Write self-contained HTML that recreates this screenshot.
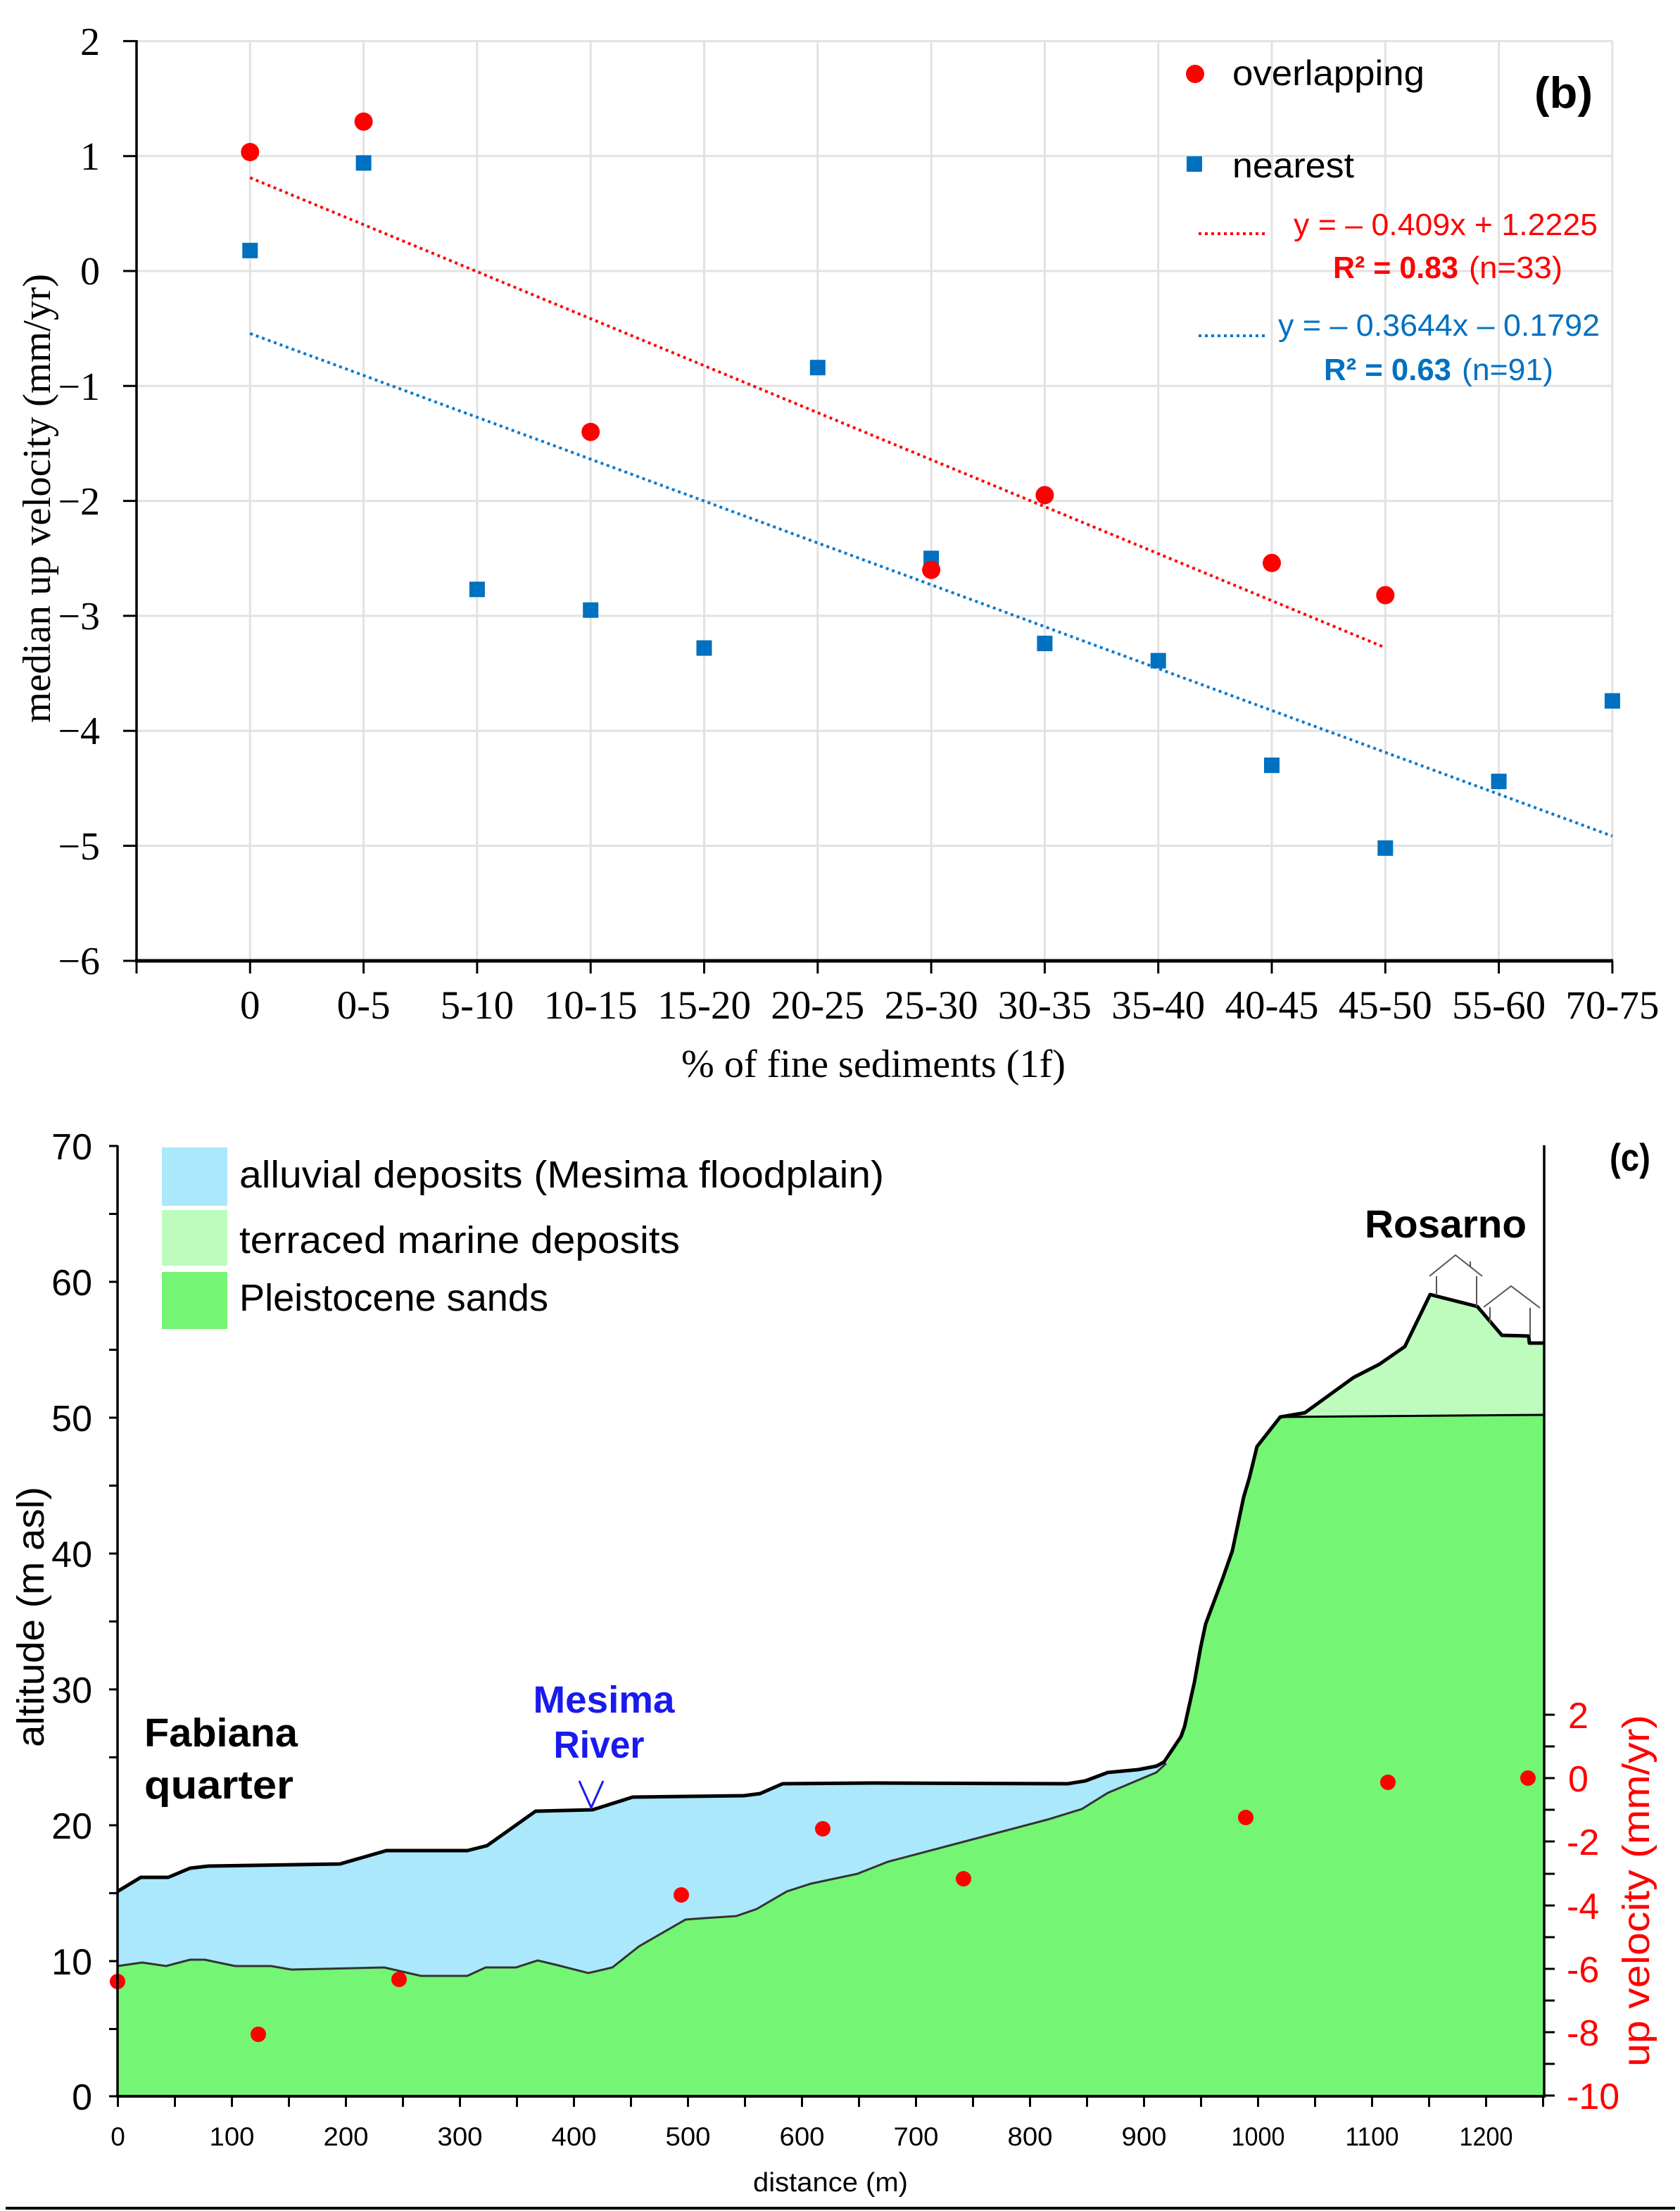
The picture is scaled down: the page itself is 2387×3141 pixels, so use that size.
<!DOCTYPE html>
<html>
<head>
<meta charset="utf-8">
<style>
html,body{margin:0;padding:0;background:#fff;}
svg{display:block;}
.serif{font-family:"Liberation Serif",serif;}
.sans{font-family:"Liberation Sans",sans-serif;}
</style>
</head>
<body>
<svg width="2387" height="3141" viewBox="0 0 2387 3141" xmlns="http://www.w3.org/2000/svg">
<rect x="0" y="0" width="2387" height="3141" fill="#fff"/>

<!-- ================= TOP CHART (b) ================= -->
<g stroke="#e2e2e2" stroke-width="3">
  <!-- horizontal gridlines -->
  <line x1="194" y1="58.4" x2="2291" y2="58.4"/>
  <line x1="194" y1="221.7" x2="2291" y2="221.7"/>
  <line x1="194" y1="385" x2="2291" y2="385"/>
  <line x1="194" y1="548.3" x2="2291" y2="548.3"/>
  <line x1="194" y1="711.6" x2="2291" y2="711.6"/>
  <line x1="194" y1="874.9" x2="2291" y2="874.9"/>
  <line x1="194" y1="1038.2" x2="2291" y2="1038.2"/>
  <line x1="194" y1="1201.5" x2="2291" y2="1201.5"/>
  <!-- vertical gridlines -->
  <line x1="355.3" y1="58" x2="355.3" y2="1364"/>
  <line x1="516.6" y1="58" x2="516.6" y2="1364"/>
  <line x1="677.9" y1="58" x2="677.9" y2="1364"/>
  <line x1="839.2" y1="58" x2="839.2" y2="1364"/>
  <line x1="1000.5" y1="58" x2="1000.5" y2="1364"/>
  <line x1="1161.8" y1="58" x2="1161.8" y2="1364"/>
  <line x1="1323.1" y1="58" x2="1323.1" y2="1364"/>
  <line x1="1484.4" y1="58" x2="1484.4" y2="1364"/>
  <line x1="1645.7" y1="58" x2="1645.7" y2="1364"/>
  <line x1="1807" y1="58" x2="1807" y2="1364"/>
  <line x1="1968.3" y1="58" x2="1968.3" y2="1364"/>
  <line x1="2129.6" y1="58" x2="2129.6" y2="1364"/>
  <line x1="2290.9" y1="58" x2="2290.9" y2="1364"/>
</g>

<!-- axes -->
<g stroke="#000" stroke-width="3.5">
  <line x1="194" y1="57" x2="194" y2="1366"/>
  <line x1="192" y1="1365" x2="2292" y2="1365" stroke-width="5"/>
</g>
<g stroke="#000" stroke-width="3">
  <!-- y ticks -->
  <line x1="175" y1="58.4" x2="194" y2="58.4"/>
  <line x1="175" y1="221.7" x2="194" y2="221.7"/>
  <line x1="175" y1="385" x2="194" y2="385"/>
  <line x1="175" y1="548.3" x2="194" y2="548.3"/>
  <line x1="175" y1="711.6" x2="194" y2="711.6"/>
  <line x1="175" y1="874.9" x2="194" y2="874.9"/>
  <line x1="175" y1="1038.2" x2="194" y2="1038.2"/>
  <line x1="175" y1="1201.5" x2="194" y2="1201.5"/>
  <line x1="175" y1="1365" x2="194" y2="1365"/>
  <!-- x ticks -->
  <line x1="194" y1="1365" x2="194" y2="1383"/>
  <line x1="355.3" y1="1365" x2="355.3" y2="1383"/>
  <line x1="516.6" y1="1365" x2="516.6" y2="1383"/>
  <line x1="677.9" y1="1365" x2="677.9" y2="1383"/>
  <line x1="839.2" y1="1365" x2="839.2" y2="1383"/>
  <line x1="1000.5" y1="1365" x2="1000.5" y2="1383"/>
  <line x1="1161.8" y1="1365" x2="1161.8" y2="1383"/>
  <line x1="1323.1" y1="1365" x2="1323.1" y2="1383"/>
  <line x1="1484.4" y1="1365" x2="1484.4" y2="1383"/>
  <line x1="1645.7" y1="1365" x2="1645.7" y2="1383"/>
  <line x1="1807" y1="1365" x2="1807" y2="1383"/>
  <line x1="1968.3" y1="1365" x2="1968.3" y2="1383"/>
  <line x1="2129.6" y1="1365" x2="2129.6" y2="1383"/>
  <line x1="2290.9" y1="1365" x2="2290.9" y2="1383"/>
</g>

<!-- y tick labels -->
<g class="serif" font-size="56" fill="#000" text-anchor="end">
  <text x="142" y="78">2</text>
  <text x="142" y="241">1</text>
  <text x="142" y="404">0</text>
  <text x="142" y="568">−1</text>
  <text x="142" y="731">−2</text>
  <text x="142" y="894">−3</text>
  <text x="142" y="1057">−4</text>
  <text x="142" y="1221">−5</text>
  <text x="142" y="1384">−6</text>
</g>

<!-- x tick labels -->
<g class="serif" font-size="57" fill="#000" text-anchor="middle">
  <text x="355.3" y="1447">0</text>
  <text x="516.6" y="1447">0-5</text>
  <text x="677.9" y="1447">5-10</text>
  <text x="839.2" y="1447">10-15</text>
  <text x="1000.5" y="1447">15-20</text>
  <text x="1161.8" y="1447">20-25</text>
  <text x="1323.1" y="1447">25-30</text>
  <text x="1484.4" y="1447">30-35</text>
  <text x="1645.7" y="1447">35-40</text>
  <text x="1807" y="1447">40-45</text>
  <text x="1968.3" y="1447">45-50</text>
  <text x="2129.6" y="1447">55-60</text>
  <text x="2290.9" y="1447">70-75</text>
</g>

<!-- axis titles -->
<text class="serif" font-size="56" x="1241" y="1530" text-anchor="middle" textLength="546" lengthAdjust="spacingAndGlyphs">% of fine sediments (1f)</text>
<text class="serif" font-size="56" transform="translate(71,708) rotate(-90)" text-anchor="middle" textLength="638" lengthAdjust="spacingAndGlyphs">median up velocity (mm/yr)</text>

<!-- trend lines -->
<line x1="355.3" y1="252.4" x2="1968.3" y2="920.1" stroke="#ff0000" stroke-width="4" stroke-dasharray="4 5"/>
<line x1="355.3" y1="473.8" x2="2290.9" y2="1187.8" stroke="#0a78cc" stroke-width="4" stroke-dasharray="4 5"/>

<!-- nearest (blue squares) -->
<g fill="#0070c0">
  <rect x="344.3" y="344.9" width="22" height="22"/>
  <rect x="505.6" y="220.5" width="22" height="22"/>
  <rect x="666.9" y="826.3" width="22" height="22"/>
  <rect x="828.2" y="855.7" width="22" height="22"/>
  <rect x="989.5" y="909.6" width="22" height="22"/>
  <rect x="1150.8" y="511.2" width="22" height="22"/>
  <rect x="1312.1" y="782.3" width="22" height="22"/>
  <rect x="1473.4" y="903.1" width="22" height="22"/>
  <rect x="1634.7" y="927.6" width="22" height="22"/>
  <rect x="1796" y="1076.2" width="22" height="22"/>
  <rect x="1957.3" y="1193.8" width="22" height="22"/>
  <rect x="2118.6" y="1099.1" width="22" height="22"/>
  <rect x="2279.9" y="984.7" width="22" height="22"/>
</g>

<!-- overlapping (red circles) -->
<g fill="#ff0000">
  <circle cx="355.3" cy="216" r="13"/>
  <circle cx="516.6" cy="172.7" r="13"/>
  <circle cx="839.2" cy="613.6" r="13"/>
  <circle cx="1323.1" cy="809.6" r="13"/>
  <circle cx="1484.4" cy="703.4" r="13"/>
  <circle cx="1807" cy="799.8" r="13"/>
  <circle cx="1968.3" cy="845.5" r="13"/>
</g>

<!-- legend (b) -->
<circle cx="1698" cy="105" r="13" fill="#ff0000"/>
<text class="sans" font-size="50" x="1751" y="121" textLength="273" lengthAdjust="spacingAndGlyphs">overlapping</text>
<rect x="1686" y="222" width="22" height="22" fill="#0070c0"/>
<text class="sans" font-size="50" x="1751" y="252" textLength="173" lengthAdjust="spacingAndGlyphs">nearest</text>
<text class="sans" font-size="62" font-weight="bold" x="2180" y="153" textLength="83" lengthAdjust="spacingAndGlyphs">(b)</text>

<line x1="1703" y1="332" x2="1798" y2="332" stroke="#ff0000" stroke-width="4" stroke-dasharray="4 5"/>
<text class="sans" font-size="44" fill="#ff0000" x="1838" y="334" textLength="432" lengthAdjust="spacingAndGlyphs">y = – 0.409x + 1.2225</text>
<text class="sans" font-size="44" fill="#ff0000" font-weight="bold" x="1894" y="395" textLength="178" lengthAdjust="spacingAndGlyphs">R² = 0.83</text>
<text class="sans" font-size="44" fill="#ff0000" x="2087" y="395" textLength="133" lengthAdjust="spacingAndGlyphs">(n=33)</text>

<line x1="1703" y1="477" x2="1798" y2="477" stroke="#0a78cc" stroke-width="4" stroke-dasharray="4 5"/>
<text class="sans" font-size="44" fill="#0070c0" x="1816" y="477" textLength="457" lengthAdjust="spacingAndGlyphs">y = – 0.3644x – 0.1792</text>
<text class="sans" font-size="44" fill="#0070c0" font-weight="bold" x="1881" y="540" textLength="181" lengthAdjust="spacingAndGlyphs">R² = 0.63</text>
<text class="sans" font-size="44" fill="#0070c0" x="2077" y="540" textLength="130" lengthAdjust="spacingAndGlyphs">(n=91)</text>

<!-- ================= BOTTOM CHART (c) ================= -->
<!-- alluvial -->
<path fill="#abe8fc" d="M167,2687 L200,2667 L239,2667 L270,2654 L296,2651 L483,2648 L549,2629 L664,2629 L692,2622 L761,2573 L842,2571 L899,2553 L1057,2551 L1080,2548 L1112,2534 L1241,2533 L1517,2534 L1542,2530 L1574,2518 L1617,2514 L1643,2509 L1654,2503 L1660,2503 L1660,2978 L167,2978 Z"/>
<!-- terraced marine -->
<path fill="#bdfcbd" d="M1819,2013 L1854,2007 L1923,1957 L1960,1938 L1996,1913 L2032,1839 L2099,1856 L2134,1897 L2172,1898 L2173,1908 L2194,1908 L2194,2012 Z"/>
<!-- Pleistocene -->
<path fill="#74f574" d="M167,2978 L167,2793 L202,2788 L236,2793 L270,2784 L291,2784 L334,2793 L385,2793 L414,2798 L546,2795 L598,2807 L664,2807 L690,2795 L733,2795 L764,2785 L793,2792 L836,2803 L870,2795 L908,2765 L974,2727 L1000,2725 L1046,2722 L1075,2712 L1118,2687 L1152,2676 L1218,2662 L1261,2645 L1367,2617 L1488,2585 L1537,2570 L1574,2547 L1643,2518 L1657,2505 L1678,2467 L1683,2453 L1697,2390 L1706,2340 L1713,2307 L1737,2243 L1751,2203 L1767,2127 L1775,2100 L1786,2055 L1819,2013 L2194,2010 L2194,2978 Z"/>

<!-- outlines -->
<polyline fill="none" stroke="#333" stroke-width="3" points="167,2793 202,2788 236,2793 270,2784 291,2784 334,2793 385,2793 414,2798 546,2795 598,2807 664,2807 690,2795 733,2795 764,2785 793,2792 836,2803 870,2795 908,2765 974,2727 1000,2725 1046,2722 1075,2712 1118,2687 1152,2676 1218,2662 1261,2645 1367,2617 1488,2585 1537,2570 1574,2547 1643,2518 1657,2505"/>
<line x1="1819" y1="2013" x2="2194" y2="2010" stroke="#000" stroke-width="3"/>
<polyline fill="none" stroke="#000" stroke-width="5" stroke-linejoin="round" points="167,2687 200,2667 239,2667 270,2654 296,2651 483,2648 549,2629 664,2629 692,2622 761,2573 842,2571 899,2553 1057,2551 1080,2548 1112,2534 1241,2533 1517,2534 1542,2530 1574,2518 1617,2514 1643,2509 1654,2503 1678,2467 1683,2453 1697,2390 1706,2340 1713,2307 1737,2243 1751,2203 1767,2127 1775,2100 1786,2055 1819,2013 1854,2007 1923,1957 1960,1938 1996,1913 2032,1839 2099,1856 2134,1897 2172,1898 2173,1908 2194,1908"/>

<!-- houses -->
<g fill="none" stroke="#555" stroke-width="2">
  <polyline points="2031,1813 2068,1783 2106,1813"/>
  <line x1="2041" y1="1813" x2="2041" y2="1840"/>
  <line x1="2098" y1="1813" x2="2098" y2="1856"/>
  <line x1="2089" y1="1792" x2="2089" y2="1800"/>
  <polyline points="2108,1857 2147,1827 2188,1858"/>
  <line x1="2117" y1="1857" x2="2117" y2="1880"/>
  <line x1="2174" y1="1858" x2="2174" y2="1898"/>
</g>

<!-- red velocity dots -->
<g fill="#ff0000">
  <circle cx="167" cy="2815" r="11"/>
  <circle cx="367" cy="2890" r="11"/>
  <circle cx="567" cy="2812" r="11"/>
  <circle cx="968" cy="2692" r="11"/>
  <circle cx="1169" cy="2598" r="11"/>
  <circle cx="1369" cy="2669" r="11"/>
  <circle cx="1770" cy="2582" r="11"/>
  <circle cx="1972" cy="2532" r="11"/>
  <circle cx="2171" cy="2526" r="11"/>
</g>

<!-- axes bottom chart -->
<g stroke="#000" stroke-width="3.5">
  <line x1="167" y1="1627" x2="167" y2="2980"/>
  <line x1="2194" y1="1627" x2="2194" y2="2980"/>
  <line x1="165" y1="2978" x2="2196" y2="2978" stroke-width="4"/>
</g>
<!-- left ticks every 5 m -->
<g stroke="#000" stroke-width="3">
  <line x1="155" y1="1628" x2="167" y2="1628"/>
  <line x1="155" y1="1724.5" x2="167" y2="1724.5"/>
  <line x1="155" y1="1821" x2="167" y2="1821"/>
  <line x1="155" y1="1917.5" x2="167" y2="1917.5"/>
  <line x1="155" y1="2014" x2="167" y2="2014"/>
  <line x1="155" y1="2110.5" x2="167" y2="2110.5"/>
  <line x1="155" y1="2207" x2="167" y2="2207"/>
  <line x1="155" y1="2303.5" x2="167" y2="2303.5"/>
  <line x1="155" y1="2400" x2="167" y2="2400"/>
  <line x1="155" y1="2496.5" x2="167" y2="2496.5"/>
  <line x1="155" y1="2593" x2="167" y2="2593"/>
  <line x1="155" y1="2689.5" x2="167" y2="2689.5"/>
  <line x1="155" y1="2786" x2="167" y2="2786"/>
  <line x1="155" y1="2882.5" x2="167" y2="2882.5"/>
  <line x1="155" y1="2978" x2="167" y2="2978"/>
</g>
<!-- right ticks -->
<g stroke="#000" stroke-width="3">
  <line x1="2194" y1="2436" x2="2209" y2="2436"/>
  <line x1="2194" y1="2481" x2="2209" y2="2481"/>
  <line x1="2194" y1="2526" x2="2209" y2="2526"/>
  <line x1="2194" y1="2571" x2="2209" y2="2571"/>
  <line x1="2194" y1="2616" x2="2209" y2="2616"/>
  <line x1="2194" y1="2662" x2="2209" y2="2662"/>
  <line x1="2194" y1="2707" x2="2209" y2="2707"/>
  <line x1="2194" y1="2752" x2="2209" y2="2752"/>
  <line x1="2194" y1="2797" x2="2209" y2="2797"/>
  <line x1="2194" y1="2842" x2="2209" y2="2842"/>
  <line x1="2194" y1="2887" x2="2209" y2="2887"/>
  <line x1="2194" y1="2932" x2="2209" y2="2932"/>
  <line x1="2194" y1="2977" x2="2209" y2="2977"/>
</g>
<!-- bottom ticks every 50 m -->
<g stroke="#000" stroke-width="3">
  <line x1="167.5" y1="2978" x2="167.5" y2="2993"/>
  <line x1="248.5" y1="2978" x2="248.5" y2="2993"/>
  <line x1="329.5" y1="2978" x2="329.5" y2="2993"/>
  <line x1="410.5" y1="2978" x2="410.5" y2="2993"/>
  <line x1="491.5" y1="2978" x2="491.5" y2="2993"/>
  <line x1="572.5" y1="2978" x2="572.5" y2="2993"/>
  <line x1="653.5" y1="2978" x2="653.5" y2="2993"/>
  <line x1="734.5" y1="2978" x2="734.5" y2="2993"/>
  <line x1="815.5" y1="2978" x2="815.5" y2="2993"/>
  <line x1="896.5" y1="2978" x2="896.5" y2="2993"/>
  <line x1="977.5" y1="2978" x2="977.5" y2="2993"/>
  <line x1="1058.5" y1="2978" x2="1058.5" y2="2993"/>
  <line x1="1139.5" y1="2978" x2="1139.5" y2="2993"/>
  <line x1="1220.5" y1="2978" x2="1220.5" y2="2993"/>
  <line x1="1301.5" y1="2978" x2="1301.5" y2="2993"/>
  <line x1="1382.5" y1="2978" x2="1382.5" y2="2993"/>
  <line x1="1463.5" y1="2978" x2="1463.5" y2="2993"/>
  <line x1="1544.5" y1="2978" x2="1544.5" y2="2993"/>
  <line x1="1625.5" y1="2978" x2="1625.5" y2="2993"/>
  <line x1="1706.5" y1="2978" x2="1706.5" y2="2993"/>
  <line x1="1787.5" y1="2978" x2="1787.5" y2="2993"/>
  <line x1="1868.5" y1="2978" x2="1868.5" y2="2993"/>
  <line x1="1949.5" y1="2978" x2="1949.5" y2="2993"/>
  <line x1="2030.5" y1="2978" x2="2030.5" y2="2993"/>
  <line x1="2111.5" y1="2978" x2="2111.5" y2="2993"/>
  <line x1="2192.5" y1="2978" x2="2192.5" y2="2993"/>
</g>

<!-- left axis labels -->
<g class="sans" font-size="52" fill="#000" text-anchor="end">
  <text x="131" y="1647">70</text>
  <text x="131" y="1840">60</text>
  <text x="131" y="2033">50</text>
  <text x="131" y="2226">40</text>
  <text x="131" y="2419">30</text>
  <text x="131" y="2612">20</text>
  <text x="131" y="2805">10</text>
  <text x="131" y="2997">0</text>
</g>
<!-- right axis labels -->
<g class="sans" font-size="52" fill="#ff0000" text-anchor="start">
  <text x="2228" y="2455">2</text>
  <text x="2228" y="2545">0</text>
  <text x="2226" y="2635">-2</text>
  <text x="2226" y="2726">-4</text>
  <text x="2226" y="2816">-6</text>
  <text x="2226" y="2906">-8</text>
  <text x="2226" y="2996">-10</text>
</g>
<!-- bottom axis labels -->
<g class="sans" font-size="37" fill="#000" text-anchor="middle">
  <text x="167.5" y="3048">0</text>
  <text x="329.5" y="3048" textLength="64" lengthAdjust="spacingAndGlyphs">100</text>
  <text x="491.5" y="3048" textLength="64" lengthAdjust="spacingAndGlyphs">200</text>
  <text x="653.5" y="3048" textLength="64" lengthAdjust="spacingAndGlyphs">300</text>
  <text x="815.5" y="3048" textLength="64" lengthAdjust="spacingAndGlyphs">400</text>
  <text x="977.5" y="3048" textLength="64" lengthAdjust="spacingAndGlyphs">500</text>
  <text x="1139.5" y="3048" textLength="64" lengthAdjust="spacingAndGlyphs">600</text>
  <text x="1301.5" y="3048" textLength="64" lengthAdjust="spacingAndGlyphs">700</text>
  <text x="1463.5" y="3048" textLength="64" lengthAdjust="spacingAndGlyphs">800</text>
  <text x="1625.5" y="3048" textLength="64" lengthAdjust="spacingAndGlyphs">900</text>
  <text x="1787.5" y="3048" textLength="76" lengthAdjust="spacingAndGlyphs">1000</text>
  <text x="1949.5" y="3048" textLength="76" lengthAdjust="spacingAndGlyphs">1100</text>
  <text x="2111.5" y="3048" textLength="76" lengthAdjust="spacingAndGlyphs">1200</text>
</g>

<!-- axis titles bottom -->
<text class="sans" font-size="38" x="1180" y="3113" text-anchor="middle" textLength="220" lengthAdjust="spacingAndGlyphs">distance (m)</text>
<text class="sans" font-size="54" transform="translate(62,2297) rotate(-90)" text-anchor="middle" textLength="370" lengthAdjust="spacingAndGlyphs">altitude (m asl)</text>
<text class="sans" font-size="54" fill="#ff0000" transform="translate(2343,2686) rotate(-90)" text-anchor="middle" textLength="500" lengthAdjust="spacingAndGlyphs">up velocity (mm/yr)</text>

<!-- legend (c) -->
<rect x="230" y="1630" width="93" height="83" fill="#abe8fc"/>
<rect x="230" y="1719" width="93" height="79" fill="#bdfcbd"/>
<rect x="230" y="1807" width="93" height="81" fill="#74f574"/>
<text class="sans" font-size="54" x="340" y="1687" textLength="916" lengthAdjust="spacingAndGlyphs">alluvial deposits (Mesima floodplain)</text>
<text class="sans" font-size="54" x="340" y="1780" textLength="626" lengthAdjust="spacingAndGlyphs">terraced marine deposits</text>
<text class="sans" font-size="54" x="340" y="1862" textLength="439" lengthAdjust="spacingAndGlyphs">Pleistocene sands</text>

<text class="sans" font-size="55" font-weight="bold" x="2316" y="1663" text-anchor="middle" textLength="58" lengthAdjust="spacingAndGlyphs">(c)</text>
<text class="sans" font-size="56" font-weight="bold" x="1939" y="1758" textLength="230" lengthAdjust="spacingAndGlyphs">Rosarno</text>

<text class="sans" font-size="57" font-weight="bold" x="205" y="2481" textLength="218" lengthAdjust="spacingAndGlyphs">Fabiana</text>
<text class="sans" font-size="57" font-weight="bold" x="205" y="2555" textLength="212" lengthAdjust="spacingAndGlyphs">quarter</text>

<text class="sans" font-size="54" font-weight="bold" fill="#1a1aee" x="858" y="2433" text-anchor="middle" textLength="201" lengthAdjust="spacingAndGlyphs">Mesima</text>
<text class="sans" font-size="54" font-weight="bold" fill="#1a1aee" x="851" y="2497" text-anchor="middle" textLength="129" lengthAdjust="spacingAndGlyphs">River</text>
<polyline points="823,2530 840,2568 857,2530" fill="none" stroke="#1a1aee" stroke-width="3"/>

<!-- bottom rule -->
<line x1="8" y1="3137" x2="2380" y2="3137" stroke="#000" stroke-width="4"/>
</svg>
</body>
</html>
